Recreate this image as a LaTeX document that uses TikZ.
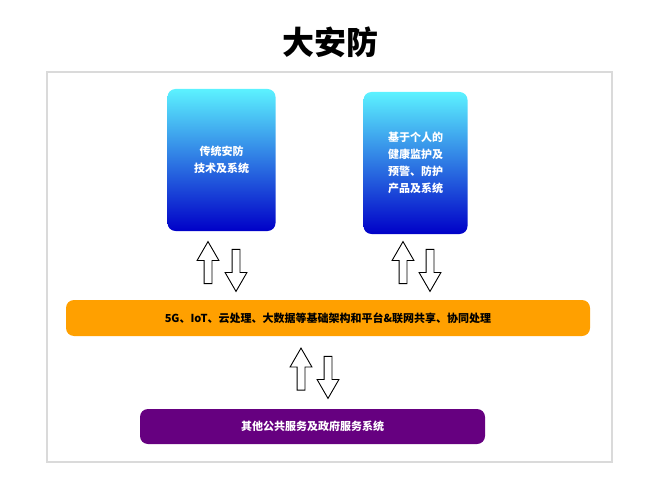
\documentclass[tikz,border=0pt]{standalone}
\usepackage{fontspec}
\newfontfamily\cjk{Noto Sans CJK SC}
\usetikzlibrary{shapes.arrows}
\definecolor{skytop}{RGB}{92,242,255}
\definecolor{skymid}{RGB}{30,120,250}
\definecolor{deepblue}{RGB}{0,0,200}
\definecolor{barorange}{RGB}{255,160,0}
\definecolor{govpurple}{RGB}{102,0,128}
\definecolor{framegray}{RGB}{218,218,218}
\tikzset{
  bluebox/.style={rounded corners=8pt,top color=skytop,middle color=skymid,bottom color=deepblue,
    text=white,align=center,font=\cjk\bfseries\fontsize{11}{17}\selectfont},
  flatbox/.style={rounded corners=8pt,align=center,font=\cjk\bfseries\fontsize{11}{17}\selectfont},
  blockarrow/.style={single arrow,draw=black,line width=0.9pt,fill=white,inner sep=3.5pt,
    single arrow head extend=7pt,single arrow tip angle=60,minimum height=42pt}
}
\begin{document}
\begin{tikzpicture}[x=1pt,y=-1pt]
            \useasboundingbox (0,0) rectangle (660,494);
            \node[font=\cjk\bfseries\fontsize{32}{36}\selectfont] (title) at (330,42) {大安防};
            \draw[framegray,line width=1.5pt] (47,72) rectangle (612,462);
            % upper boxes
            \node[bluebox,minimum width=108pt,minimum height=142pt] (trad) at (221.5,160) {传统安防\\技术及系统};
            \node[bluebox,minimum width=104pt,minimum height=142pt] (health) at (415.5,163) {基于个人的\\健康监护及\\预警、防护\\产品及系统};
            % base layer
            \node[flatbox,fill=barorange,minimum width=524pt,minimum height=36pt] (base) at (328,318) {5G、IoT、云处理、大数据等基础架构和平台\&联网共享、协同处理};
            \node[flatbox,fill=govpurple,text=white,minimum width=345pt,minimum height=35pt] (gov) at (312.5,426.5) {其他公共服务及政府服务系统};
            % exchange arrows
            \node[blockarrow,shape border rotate=90] (tradup) at (208,266) {};
            \node[blockarrow,shape border rotate=270] (traddown) at (236,267) {};
            \node[blockarrow,shape border rotate=90] (healthup) at (403,266) {};
            \node[blockarrow,shape border rotate=270] (healthdown) at (430,267) {};
            \node[blockarrow,shape border rotate=90] (govup) at (301,372.5) {};
            \node[blockarrow,shape border rotate=270] (govdown) at (328,374) {};
        \end{tikzpicture}
\end{document}
